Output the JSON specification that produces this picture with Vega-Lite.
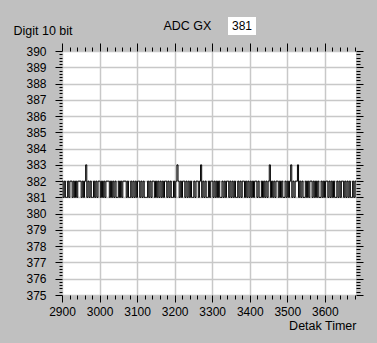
{
"$schema": "https://vega.github.io/schema/vega-lite/v6.json",
"width": 294, "height": 244,
"autosize": {"type": "none"},
"padding": {"left": 62, "top": 51, "right": 21, "bottom": 48},
"background": "#c0c0c0",
"config": {
  "view": {"fill": "white", "stroke": null},
  "font": "Liberation Sans",
  "axis": {"domain": false, "labelFont": "Liberation Sans", "labelFontSize": 12, "labelColor": "black", "tickColor": "black", "tickWidth": 1,
    "titleFont": "Liberation Sans", "titleFontSize": 12.5, "titleFontWeight": "normal", "titleColor": "black",
    "gridColor": "#c8c8c8", "gridWidth": 1.5, "labelOverlap": false, "labelFlush": false}
},
"datasets": {
  "adc": [
{"t":2900,"v":382},{"t":2903,"v":381},{"t":2906,"v":382},{"t":2909,"v":381},{"t":2912,"v":381},{"t":2915,"v":382},{"t":2918,"v":381},{"t":2921,"v":382},{"t":2924,"v":382},{"t":2927,"v":381},
{"t":2930,"v":382},{"t":2933,"v":381},{"t":2936,"v":382},{"t":2939,"v":381},{"t":2942,"v":382},{"t":2945,"v":382},{"t":2948,"v":382},{"t":2951,"v":381},{"t":2954,"v":382},{"t":2957,"v":381},
{"t":2960,"v":382},{"t":2963,"v":383},{"t":2966,"v":381},{"t":2969,"v":382},{"t":2972,"v":381},{"t":2975,"v":382},{"t":2978,"v":381},{"t":2981,"v":381},{"t":2984,"v":382},{"t":2987,"v":381},
{"t":2990,"v":382},{"t":2993,"v":381},{"t":2996,"v":382},{"t":2999,"v":382},{"t":3002,"v":381},{"t":3005,"v":382},{"t":3008,"v":381},{"t":3011,"v":382},{"t":3014,"v":381},{"t":3017,"v":382},
{"t":3020,"v":382},{"t":3023,"v":382},{"t":3026,"v":381},{"t":3029,"v":382},{"t":3032,"v":381},{"t":3035,"v":382},{"t":3038,"v":381},{"t":3041,"v":382},{"t":3044,"v":381},{"t":3047,"v":381},
{"t":3050,"v":382},{"t":3053,"v":381},{"t":3056,"v":382},{"t":3059,"v":381},{"t":3062,"v":382},{"t":3065,"v":382},{"t":3068,"v":382},{"t":3071,"v":381},{"t":3074,"v":382},{"t":3077,"v":381},
{"t":3080,"v":381},{"t":3083,"v":382},{"t":3086,"v":381},{"t":3089,"v":382},{"t":3092,"v":381},{"t":3095,"v":382},{"t":3098,"v":381},{"t":3101,"v":382},{"t":3104,"v":382},{"t":3107,"v":381},
{"t":3110,"v":382},{"t":3113,"v":381},{"t":3116,"v":382},{"t":3119,"v":381},{"t":3122,"v":381},{"t":3125,"v":381},{"t":3128,"v":382},{"t":3131,"v":381},{"t":3134,"v":382},{"t":3137,"v":381},
{"t":3140,"v":382},{"t":3143,"v":382},{"t":3146,"v":381},{"t":3149,"v":382},{"t":3152,"v":381},{"t":3155,"v":382},{"t":3158,"v":381},{"t":3161,"v":382},{"t":3164,"v":381},{"t":3167,"v":382},
{"t":3170,"v":381},{"t":3173,"v":382},{"t":3176,"v":382},{"t":3179,"v":381},{"t":3182,"v":382},{"t":3185,"v":381},{"t":3188,"v":382},{"t":3191,"v":381},{"t":3194,"v":381},{"t":3197,"v":382},
{"t":3200,"v":381},{"t":3203,"v":382},{"t":3206,"v":383},{"t":3209,"v":382},{"t":3212,"v":381},{"t":3215,"v":382},{"t":3218,"v":381},{"t":3221,"v":382},{"t":3224,"v":382},{"t":3227,"v":381},
{"t":3230,"v":382},{"t":3233,"v":381},{"t":3236,"v":382},{"t":3239,"v":381},{"t":3242,"v":382},{"t":3245,"v":381},{"t":3248,"v":381},{"t":3251,"v":382},{"t":3254,"v":381},{"t":3257,"v":382},
{"t":3260,"v":382},{"t":3263,"v":381},{"t":3266,"v":382},{"t":3269,"v":383},{"t":3272,"v":381},{"t":3275,"v":382},{"t":3278,"v":381},{"t":3281,"v":382},{"t":3284,"v":381},{"t":3287,"v":381},
{"t":3290,"v":382},{"t":3293,"v":381},{"t":3296,"v":382},{"t":3299,"v":382},{"t":3302,"v":381},{"t":3305,"v":382},{"t":3308,"v":381},{"t":3311,"v":382},{"t":3314,"v":381},{"t":3317,"v":382},
{"t":3320,"v":381},{"t":3323,"v":381},{"t":3326,"v":382},{"t":3329,"v":381},{"t":3332,"v":382},{"t":3335,"v":381},{"t":3338,"v":382},{"t":3341,"v":382},{"t":3344,"v":381},{"t":3347,"v":382},
{"t":3350,"v":381},{"t":3353,"v":382},{"t":3356,"v":381},{"t":3359,"v":382},{"t":3362,"v":381},{"t":3365,"v":381},{"t":3368,"v":382},{"t":3371,"v":381},{"t":3374,"v":382},{"t":3377,"v":381},
{"t":3380,"v":382},{"t":3383,"v":382},{"t":3386,"v":381},{"t":3389,"v":382},{"t":3392,"v":381},{"t":3395,"v":382},{"t":3398,"v":381},{"t":3401,"v":382},{"t":3404,"v":381},{"t":3407,"v":382},
{"t":3410,"v":381},{"t":3413,"v":382},{"t":3416,"v":382},{"t":3419,"v":381},{"t":3422,"v":382},{"t":3425,"v":381},{"t":3428,"v":381},{"t":3431,"v":382},{"t":3434,"v":381},{"t":3437,"v":382},
{"t":3440,"v":381},{"t":3443,"v":382},{"t":3446,"v":381},{"t":3449,"v":382},{"t":3452,"v":383},{"t":3455,"v":381},{"t":3458,"v":382},{"t":3461,"v":381},{"t":3464,"v":382},{"t":3467,"v":381},
{"t":3470,"v":382},{"t":3473,"v":382},{"t":3476,"v":381},{"t":3479,"v":382},{"t":3482,"v":381},{"t":3485,"v":382},{"t":3488,"v":381},{"t":3491,"v":381},{"t":3494,"v":382},{"t":3497,"v":381},
{"t":3500,"v":382},{"t":3503,"v":381},{"t":3506,"v":382},{"t":3509,"v":383},{"t":3512,"v":381},{"t":3515,"v":382},{"t":3518,"v":381},{"t":3521,"v":382},{"t":3524,"v":382},{"t":3527,"v":383},
{"t":3530,"v":381},{"t":3533,"v":382},{"t":3536,"v":381},{"t":3539,"v":382},{"t":3542,"v":381},{"t":3545,"v":381},{"t":3548,"v":382},{"t":3551,"v":381},{"t":3554,"v":382},{"t":3557,"v":381},
{"t":3560,"v":382},{"t":3563,"v":382},{"t":3566,"v":381},{"t":3569,"v":382},{"t":3572,"v":381},{"t":3575,"v":382},{"t":3578,"v":381},{"t":3581,"v":382},{"t":3584,"v":381},{"t":3587,"v":381},
{"t":3590,"v":382},{"t":3593,"v":381},{"t":3596,"v":382},{"t":3599,"v":381},{"t":3602,"v":382},{"t":3605,"v":382},{"t":3608,"v":381},{"t":3611,"v":382},{"t":3614,"v":381},{"t":3617,"v":382},
{"t":3620,"v":381},{"t":3623,"v":382},{"t":3626,"v":381},{"t":3629,"v":381},{"t":3632,"v":382},{"t":3635,"v":381},{"t":3638,"v":382},{"t":3641,"v":381},{"t":3644,"v":382},{"t":3647,"v":382},
{"t":3650,"v":381},{"t":3653,"v":382},{"t":3656,"v":381},{"t":3659,"v":382},{"t":3662,"v":381},{"t":3665,"v":382},{"t":3668,"v":381},{"t":3671,"v":381},{"t":3674,"v":382},{"t":3677,"v":381},
{"t":3680,"v":382},{"t":3683,"v":381}
  ],
  "now": [{"t": 3683, "v": 381, "reading": "381"}]
},
"layer": [
  {
    "data": {"name": "adc"},
    "mark": {"type": "line", "interpolate": "step-after", "color": "black", "strokeWidth": 1, "clip": true},
    "encoding": {
      "x": {"field": "t", "type": "quantitative",
        "scale": {"domain": [2900, 3683], "nice": false, "zero": false},
        "axis": {"orient": "bottom",
          "values": [2900,2920,2940,2960,2980,3000,3020,3040,3060,3080,3100,3120,3140,3160,3180,3200,3220,3240,3260,3280,3300,3320,3340,3360,3380,3400,3420,3440,3460,3480,3500,3520,3540,3560,3580,3600,3620,3640,3660,3680],
          "labelExpr": "datum.value % 100 === 0 ? '' + datum.value : ''",
          "tickSize": {"condition": {"test": "datum.value % 100 === 0", "value": 7}, "value": 4},
          "gridOpacity": {"condition": {"test": "datum.value % 100 === 0", "value": 1}, "value": 0},
          "labelPadding": 4,
          "title": "Detak Timer", "titleX": 294, "titleY": 34, "titleAlign": "right", "titleBaseline": "alphabetic"}
      },
      "y": {"field": "v", "type": "quantitative",
        "scale": {"domain": [375, 390], "nice": false, "zero": false},
        "axis": {"orient": "left",
          "values": [375,375.2,375.4,375.6,375.8,376,376.2,376.4,376.6,376.8,377,377.2,377.4,377.6,377.8,378,378.2,378.4,378.6,378.8,379,379.2,379.4,379.6,379.8,380,380.2,380.4,380.6,380.8,381,381.2,381.4,381.6,381.8,382,382.2,382.4,382.6,382.8,383,383.2,383.4,383.6,383.8,384,384.2,384.4,384.6,384.8,385,385.2,385.4,385.6,385.8,386,386.2,386.4,386.6,386.8,387,387.2,387.4,387.6,387.8,388,388.2,388.4,388.6,388.8,389,389.2,389.4,389.6,389.8,390],
          "labelExpr": "datum.value % 1 === 0 ? '' + datum.value : ''",
          "tickSize": {"condition": {"test": "datum.value % 1 === 0", "value": 7}, "value": 3},
          "gridOpacity": {"condition": {"test": "datum.value % 1 === 0", "value": 1}, "value": 0},
          "labelPadding": 9,
          "title": "Digit 10 bit", "titleAngle": 0, "titleX": -49, "titleY": -17, "titleAlign": "left", "titleBaseline": "alphabetic"}
      }
    }
  },
  {
    "data": {"name": "now"},
    "mark": {"type": "point", "opacity": 0},
    "encoding": {
      "x": {"field": "t", "type": "quantitative",
        "scale": {"domain": [2900, 3683], "nice": false, "zero": false},
        "axis": {"orient": "top", "grid": false, "labels": false,
          "values": [2900,2920,2940,2960,2980,3000,3020,3040,3060,3080,3100,3120,3140,3160,3180,3200,3220,3240,3260,3280,3300,3320,3340,3360,3380,3400,3420,3440,3460,3480,3500,3520,3540,3560,3580,3600,3620,3640,3660,3680],
          "tickSize": {"condition": {"test": "datum.value % 100 === 0", "value": 8}, "value": 4},
          "title": "ADC GX", "titleX": 101, "titleY": -22, "titleAlign": "left", "titleBaseline": "alphabetic"}
      },
      "y": {"field": "v", "type": "quantitative",
        "scale": {"domain": [375, 390], "nice": false, "zero": false},
        "axis": {"orient": "right", "grid": false, "labels": false, "title": null,
          "values": [375,375.2,375.4,375.6,375.8,376,376.2,376.4,376.6,376.8,377,377.2,377.4,377.6,377.8,378,378.2,378.4,378.6,378.8,379,379.2,379.4,379.6,379.8,380,380.2,380.4,380.6,380.8,381,381.2,381.4,381.6,381.8,382,382.2,382.4,382.6,382.8,383,383.2,383.4,383.6,383.8,384,384.2,384.4,384.6,384.8,385,385.2,385.4,385.6,385.8,386,386.2,386.4,386.6,386.8,387,387.2,387.4,387.6,387.8,388,388.2,388.4,388.6,388.8,389,389.2,389.4,389.6,389.8,390],
          "tickSize": {"condition": {"test": "datum.value % 1 === 0", "value": 7}, "value": 4}}
      },
      "color": {"field": "reading", "type": "nominal", "scale": {"range": ["black"]},
        "legend": {"orient": "none", "legendX": 166, "legendY": -34, "title": null, "fillColor": "white", "padding": 3,
          "symbolSize": 1, "symbolStrokeWidth": 0, "symbolOpacity": 0, "labelOffset": -11,
          "labelFont": "Liberation Sans", "labelFontSize": 12, "labelColor": "black"}}
    }
  }
],
"resolve": {"scale": {"x": "independent", "y": "independent"}, "axis": {"x": "independent", "y": "independent"}}
}
